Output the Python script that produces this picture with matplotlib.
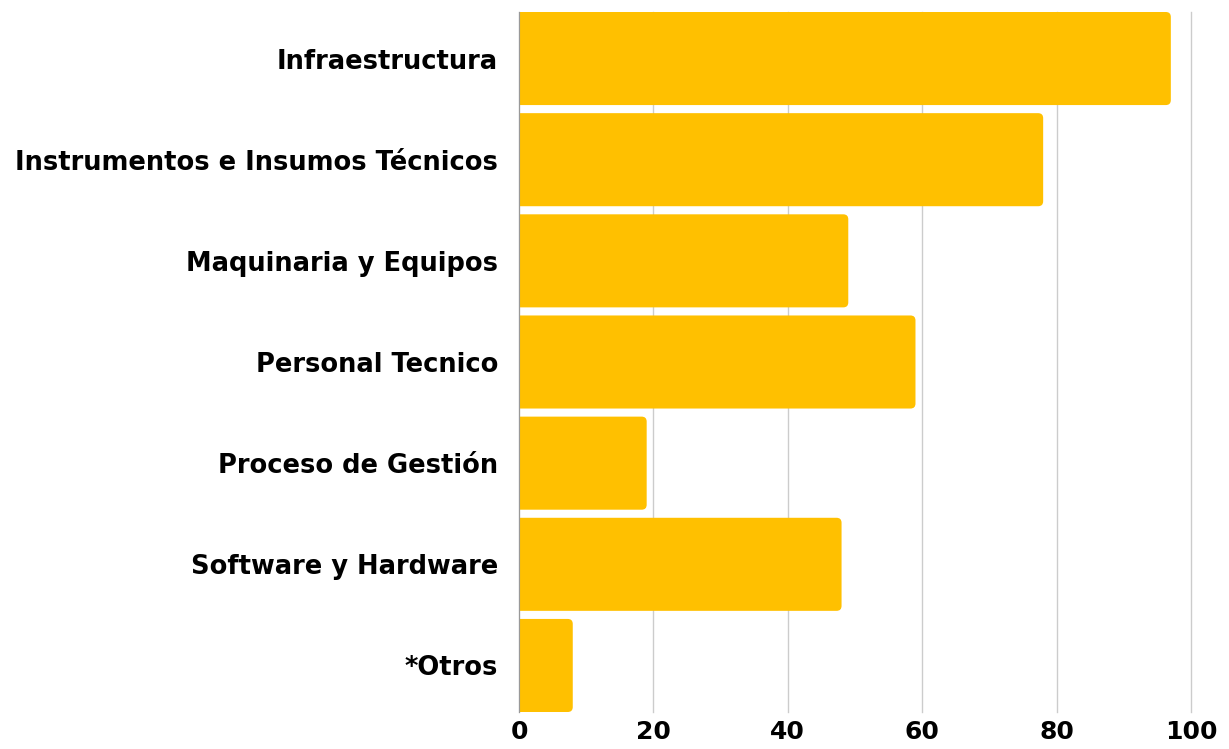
import matplotlib.pyplot as plt
from matplotlib.patches import PathPatch
from matplotlib.path import Path

categorias = ["Infraestructura", "Instrumentos e Insumos Técnicos", "Maquinaria y Equipos",
              "Personal Tecnico", "Proceso de Gestión", "Software y Hardware", "*Otros"]
valores = [97, 78, 49, 59, 19, 48, 8]
ticks = [0, 20, 40, 60, 80, 100]

color = "#FFC000"
fig = plt.figure(figsize=(12.29, 7.49), dpi=100)
ax = fig.add_axes([519/1229, 37/749, 672/1229, 700/749])

n = len(categorias)
pos = list(range(n))
h = 0.92
# rounded right corners, radius ~5px (x: 6.72 px/unit, y: ~101.2 px/unit)
rx = 5/6.72
ry = 5/101.2

def barra(y, v):
    y0, y1 = y - h/2, y + h/2
    verts = [(0, y0), (v - rx, y0), (v, y0), (v, y0 + ry), (v, y1 - ry),
             (v, y1), (v - rx, y1), (0, y1), (0, y0)]
    codes = [Path.MOVETO, Path.LINETO, Path.CURVE3, Path.CURVE3, Path.LINETO,
             Path.CURVE3, Path.CURVE3, Path.LINETO, Path.CLOSEPOLY]
    return PathPatch(Path(verts, codes), fc=color, ec="none", zorder=3)

for y, v in zip(pos, valores):
    ax.add_patch(barra(y, v))

ax.set_xlim(0, 100)
ax.set_ylim(n - 1 + h/2, -h/2)
ax.set_xticks(ticks)
ax.set_xticklabels([str(t) for t in ticks], fontsize=18, fontweight="bold")
ax.set_yticks(pos)
ax.set_yticklabels(categorias, fontsize=18.5, fontweight="bold")
ax.tick_params(axis="both", length=0)
ax.tick_params(axis="y", pad=15)
ax.tick_params(axis="x", pad=6)
ax.grid(axis="x", color="#cccccc", linewidth=1, zorder=0)
for gl in ax.get_xgridlines():
    gl.set_clip_on(False)
for s in ["top", "right", "bottom"]:
    ax.spines[s].set_visible(False)
ax.spines["left"].set_color("#999999")
ax.spines["left"].set_zorder(4)

fig.savefig("out.png", dpi=100)
